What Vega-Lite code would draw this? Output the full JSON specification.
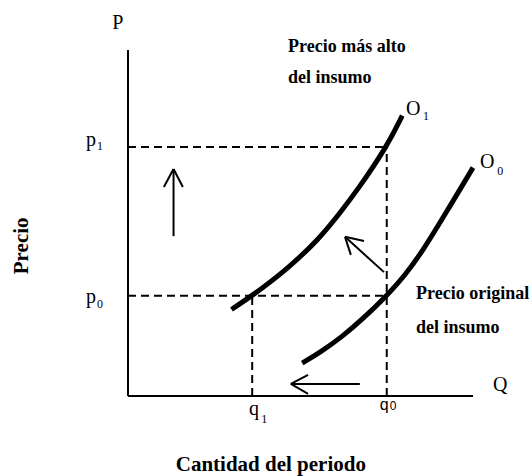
{
  "$schema": "https://vega.github.io/schema/vega-lite/v6.json",
  "width": 345,
  "height": 346,
  "autosize": {"type": "none"},
  "padding": {"left": 128, "top": 50, "right": 59, "bottom": 80},
  "config": {"view": {"stroke": null}, "font": "Liberation Serif"},
  "datasets": {
    "curves": [
      {"curve": "O1", "q": 30, "p": 25},
      {"curve": "O1", "q": 36, "p": 29},
      {"curve": "O1", "q": 46, "p": 36.5},
      {"curve": "O1", "q": 55.5, "p": 45.5},
      {"curve": "O1", "q": 61.5, "p": 53},
      {"curve": "O1", "q": 66.5, "p": 59.5},
      {"curve": "O1", "q": 75, "p": 72},
      {"curve": "O1", "q": 79.5, "p": 81},
      {"curve": "O0", "q": 50.5, "p": 9.5},
      {"curve": "O0", "q": 56, "p": 12.8},
      {"curve": "O0", "q": 62, "p": 17.1},
      {"curve": "O0", "q": 68, "p": 22.2},
      {"curve": "O0", "q": 75, "p": 29},
      {"curve": "O0", "q": 80, "p": 34.5},
      {"curve": "O0", "q": 85.5, "p": 42},
      {"curve": "O0", "q": 92.5, "p": 53.5},
      {"curve": "O0", "q": 100, "p": 66}
    ],
    "guides": [
      {"q": 0, "p": 72, "q2": 75, "p2": 72},
      {"q": 0, "p": 29, "q2": 75, "p2": 29},
      {"q": 36, "p": 0, "q2": 36, "p2": 29},
      {"q": 75, "p": 0, "q2": 75, "p2": 72}
    ],
    "axes": [
      {"q": 0, "p": 0, "q2": 0, "p2": 100},
      {"q": 0, "p": 0, "q2": 100, "p2": 0}
    ],
    "arrows": [
      {"q": 13.2, "p": 46.2, "q2": 13.2, "p2": 65.6},
      {"q": 13.2, "p": 65.6, "q2": 10.4, "p2": 60.4},
      {"q": 13.2, "p": 65.6, "q2": 15.9, "p2": 60.4},
      {"q": 74.2, "p": 35.8, "q2": 62.9, "p2": 46.0},
      {"q": 62.9, "p": 46.0, "q2": 68.4, "p2": 44.8},
      {"q": 62.9, "p": 46.0, "q2": 64.6, "p2": 40.8},
      {"q": 67.2, "p": 3.5, "q2": 47.2, "p2": 3.5},
      {"q": 47.2, "p": 3.5, "q2": 52.2, "p2": 6.1},
      {"q": 47.2, "p": 3.5, "q2": 52.2, "p2": 0.6}
    ],
    "letters": [
      {"t": "P", "q": -4.6, "p": 106.1},
      {"t": "Q", "q": 105.8, "p": 1.5},
      {"t": "p", "q": -12.2, "p": 72.3},
      {"t": "p", "q": -12.2, "p": 26.9},
      {"t": "q", "q": 35.1, "p": -5.5},
      {"t": "O", "q": 80.6, "p": 81.2},
      {"t": "O", "q": 102.0, "p": 65.9}
    ],
    "subs": [
      {"t": "1", "q": -9.0, "p": 71.1},
      {"t": "0", "q": -9.0, "p": 25.4},
      {"t": "1", "q": 38.6, "p": -7.8},
      {"t": "1", "q": 85.5, "p": 79.8},
      {"t": "0", "q": 107.0, "p": 63.9}
    ],
    "sansq": [{"t": "q", "q": 73.0, "p": -4.0}],
    "sanssub": [{"t": "0", "q": 75.9, "p": -4.0}],
    "notes": [
      {"t": "Precio más alto", "q": 46.4, "p": 99.4},
      {"t": "del insumo", "q": 46.4, "p": 90.5},
      {"t": "Precio original", "q": 83.5, "p": 28.0},
      {"t": "del insumo", "q": 83.5, "p": 18.2}
    ],
    "xtitle": [{"t": "Cantidad del periodo", "q": 41.4, "p": -21.7}],
    "ytitle": [{"t": "Precio", "q": -29.0, "p": 43.4}]
  },
  "encoding": {
    "x": {"field": "q", "type": "quantitative", "scale": {"domain": [0, 100], "nice": false, "zero": false}, "axis": null},
    "y": {"field": "p", "type": "quantitative", "scale": {"domain": [0, 100], "nice": false, "zero": false}, "axis": null}
  },
  "layer": [
    {
      "data": {"name": "guides"},
      "mark": {"type": "rule", "color": "black", "strokeWidth": 2, "strokeDash": [8, 5]},
      "encoding": {"x2": {"field": "q2"}, "y2": {"field": "p2"}}
    },
    {
      "data": {"name": "axes"},
      "mark": {"type": "rule", "color": "black", "strokeWidth": 2},
      "encoding": {"x2": {"field": "q2"}, "y2": {"field": "p2"}}
    },
    {
      "data": {"name": "arrows"},
      "mark": {"type": "rule", "color": "black", "strokeWidth": 2},
      "encoding": {"x2": {"field": "q2"}, "y2": {"field": "p2"}}
    },
    {
      "data": {"name": "curves"},
      "mark": {"type": "line", "color": "black", "strokeWidth": 5, "interpolate": "basis"},
      "encoding": {"detail": {"field": "curve"}}
    },
    {
      "data": {"name": "letters"},
      "mark": {"type": "text", "align": "left", "baseline": "alphabetic", "fontSize": 20, "font": "Liberation Serif", "color": "black"},
      "encoding": {"text": {"field": "t"}}
    },
    {
      "data": {"name": "subs"},
      "mark": {"type": "text", "align": "left", "baseline": "alphabetic", "fontSize": 12, "font": "Liberation Serif", "color": "black"},
      "encoding": {"text": {"field": "t"}}
    },
    {
      "data": {"name": "sansq"},
      "mark": {"type": "text", "align": "left", "baseline": "alphabetic", "fontSize": 16, "font": "Liberation Sans", "color": "black"},
      "encoding": {"text": {"field": "t"}}
    },
    {
      "data": {"name": "sanssub"},
      "mark": {"type": "text", "align": "left", "baseline": "alphabetic", "fontSize": 12, "font": "Liberation Sans", "color": "black"},
      "encoding": {"text": {"field": "t"}}
    },
    {
      "data": {"name": "notes"},
      "mark": {"type": "text", "align": "left", "baseline": "alphabetic", "fontSize": 18, "fontWeight": "bold", "font": "Liberation Serif", "color": "black"},
      "encoding": {"text": {"field": "t"}}
    },
    {
      "data": {"name": "xtitle"},
      "mark": {"type": "text", "align": "center", "baseline": "alphabetic", "fontSize": 21, "fontWeight": "bold", "font": "Liberation Serif", "color": "black"},
      "encoding": {"text": {"field": "t"}}
    },
    {
      "data": {"name": "ytitle"},
      "mark": {"type": "text", "align": "center", "baseline": "alphabetic", "angle": 270, "fontSize": 21, "fontWeight": "bold", "font": "Liberation Serif", "color": "black"},
      "encoding": {"text": {"field": "t"}}
    }
  ]
}
